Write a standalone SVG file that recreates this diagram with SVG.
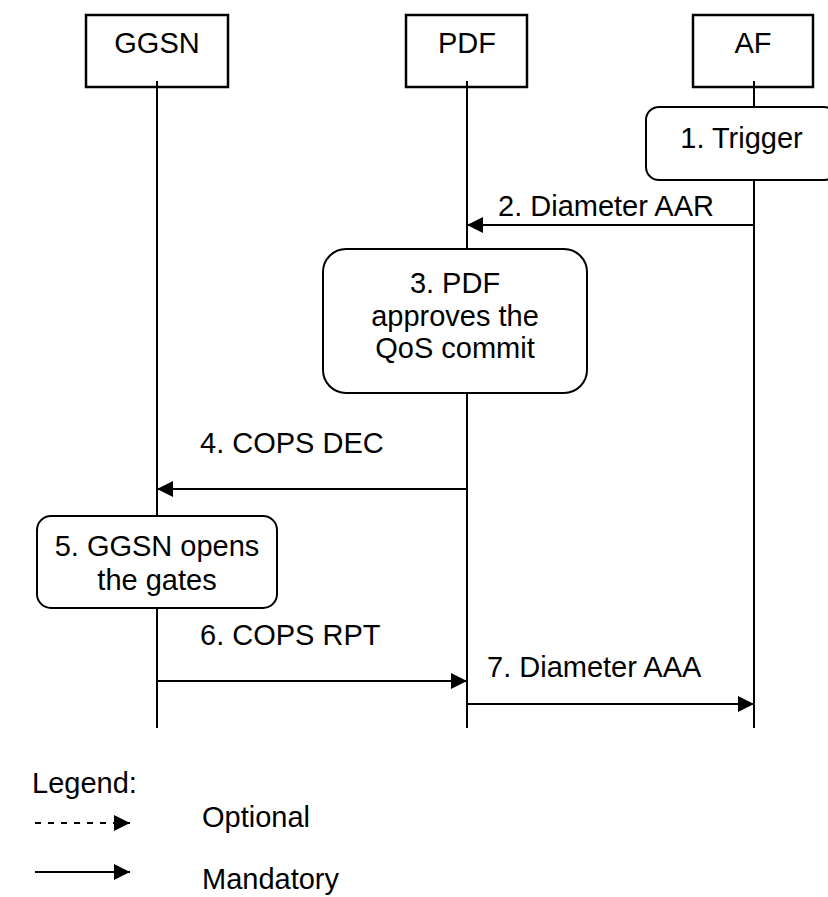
<svg xmlns="http://www.w3.org/2000/svg" width="828" height="897" viewBox="0 0 828 897">
<style>
text{font-family:"Liberation Sans",Arial,sans-serif;font-size:29px;fill:#000}
.head{fill:none;stroke:#000;stroke-width:2.5}
.proc{fill:#fff;stroke:#000;stroke-width:2}
.life{stroke:#000;stroke-width:2;fill:none}
.msg{stroke:#000;stroke-width:2;fill:none;marker-end:url(#ah)}
.c{text-anchor:middle}
</style>
<defs>
<marker id="ah" markerUnits="userSpaceOnUse" markerWidth="17" markerHeight="17" refX="16" refY="8" orient="auto">
<path d="M0,0 L16,8 L0,16 Z" fill="#000"/>
</marker>
</defs>
<rect width="828" height="897" fill="#fff"/>
<g id="lifelines">
<line class="life" x1="157" y1="81" x2="157" y2="728"/>
<line class="life" x1="467" y1="81" x2="467" y2="728"/>
<line class="life" x1="754" y1="81" x2="754" y2="728"/>
</g>
<g id="ggsn">
<rect class="head" x="86" y="15" width="142" height="72"/>
<text class="c" x="157" y="53">GGSN</text>
</g>
<g id="pdf">
<rect class="head" x="406" y="15" width="121" height="72"/>
<text class="c" x="467" y="53">PDF</text>
</g>
<g id="af">
<rect class="head" x="693" y="15" width="120" height="72"/>
<text class="c" x="753" y="53">AF</text>
</g>
<g id="step1">
<rect class="proc" x="646" y="107" width="191" height="73" rx="13"/>
<text class="c" x="741.5" y="148">1. Trigger</text>
</g>
<g id="step3">
<rect class="proc" x="323" y="249" width="264" height="144" rx="23"/>
<text class="c" x="455" y="293">3. PDF</text>
<text class="c" x="455" y="326">approves the</text>
<text class="c" x="455" y="358">QoS commit</text>
</g>
<g id="step5">
<rect class="proc" x="37" y="516" width="240" height="92" rx="14"/>
<text class="c" x="157" y="556">5. GGSN opens</text>
<text class="c" x="157" y="590">the gates</text>
</g>
<g id="connectors">
<line class="msg" x1="754" y1="225" x2="467" y2="225"/>
<line class="msg" x1="467" y1="489" x2="157" y2="489"/>
<line class="msg" x1="157" y1="681" x2="467" y2="681"/>
<line class="msg" x1="467" y1="704" x2="754" y2="704"/>
</g>
<g id="labels">
<text x="498" y="216">2. Diameter AAR</text>
<text x="200" y="453">4. COPS DEC</text>
<text x="200" y="645">6. COPS RPT</text>
<text x="487" y="677">7. Diameter AAA</text>
</g>
<g id="legend">
<text x="32" y="793">Legend:</text>
<line x1="35" y1="823" x2="130" y2="823" stroke="#000" stroke-width="2" stroke-dasharray="6,7" marker-end="url(#ah)"/>
<text x="202" y="827">Optional</text>
<line x1="35" y1="872" x2="130" y2="872" stroke="#000" stroke-width="2" marker-end="url(#ah)"/>
<text x="202" y="889">Mandatory</text>
</g>
</svg>
